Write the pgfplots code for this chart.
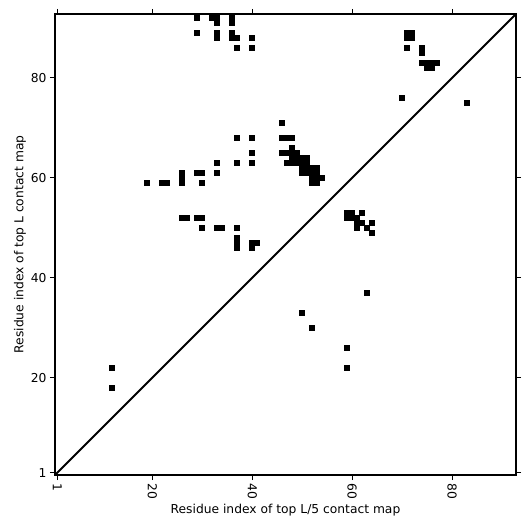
\documentclass[border=0pt]{standalone}
\usepackage{fontspec}
\setmainfont{DejaVu Sans}
\usepackage{pgfplots}
\pgfplotsset{compat=1.18}
\begin{document}
\begin{tikzpicture}
\begin{axis}[
  x=5pt, y=5pt,
  xmin=0.5, xmax=92.8, ymin=0.5, ymax=92.8,
  axis line style={line width=1.7pt},
  xtick={1,20,40,60,80}, ytick={1,20,40,60,80},
  tick align=outside, tick pos=both,
  major tick length=5pt,
  every tick/.style={black, line width=1pt},
  /pgf/number format/assume math mode=true,
  ticklabel style={font=\fontsize{12.3}{14}\selectfont},
  xticklabel style={rotate=-90, anchor=west},
  label style={font=\fontsize{12.3}{14}\selectfont},
  xlabel={Residue index of top L/5 contact map},
  ylabel={Residue index of top L contact map},
  xlabel style={yshift=2pt},
  ylabel style={yshift=-2pt},
  clip=true,
]
\addplot[only marks, mark=square*, mark size=2.5pt, mark options={fill=black, draw=black, line width=0pt}] coordinates {
(29,92) (32,92) (33,92) (33,91) (36,92) (36,91) (29,89) (33,89) (33,88) (36,89) (36,88) (37,88) (40,88) (37,86) (40,86)
(33,63) (37,63) (40,63) (29,61) (30,61) (33,61) (26,61) (26,60) (26,59) (19,59) (22,59) (23,59) (30,59) (37,68) (40,68) (40,65)
(26,52) (27,52) (29,52) (30,52) (30,50) (33,50) (34,50) (37,50) (37,48) (37,47) (37,46) (40,47) (41,47) (40,46)
(46,71) (46,68) (47,68) (48,68) (48,66) (46,65) (47,65) (48,65) (49,65) (48,64) (49,64) (50,64) (51,64)
(47,63) (48,63) (49,63) (50,63) (51,63) (50,62) (51,62) (52,62) (53,62) (50,61) (51,61) (52,61) (53,61)
(52,60) (53,60) (54,60) (52,59) (53,59)
(59,53) (60,53) (62,53) (59,52) (60,52) (61,52) (61,51) (62,51) (64,51) (61,50) (63,50) (64,49)
(63,37) (50,33) (52,30) (59,26) (59,22) (12,22) (12,18)
(71,89) (72,89) (71,88) (72,88) (71,86) (74,86) (74,85) (74,83) (75,83) (76,83) (77,83) (75,82) (76,82) (70,76) (83,75)
};
\addplot[black, line width=2pt] coordinates {(0.5,0.5) (92.8,92.8)};
\end{axis}
\path ([shift={(-55pt,-56pt)}]current axis.south west) rectangle ([shift={(14pt,14pt)}]current axis.north east);
\end{tikzpicture}
\end{document}
